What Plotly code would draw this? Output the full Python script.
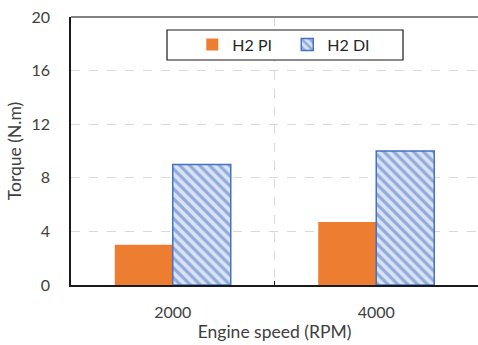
import plotly.graph_objects as go

categories = ["2000", "4000"]
h2_pi = [3.0, 4.7]
h2_di = [9.0, 10.0]
y_ticks = [0, 4, 8, 12, 16, 20]

FONT = "Lato"
fig = go.Figure()
fig.add_trace(go.Bar(
    x=categories, y=h2_pi, name="H2 PI",
    marker=dict(color="#ED7D31", line=dict(width=0)),
))
fig.add_trace(go.Bar(
    x=categories, y=h2_di, name="H2 DI",
    marker=dict(
        color="#DAE3F3",
        line=dict(color="#4472C4", width=1.5),
        pattern=dict(shape="\\", fgcolor="#4472C4", bgcolor="#DAE3F3",
                     size=7, solidity=0.45, fillmode="overlay"),
    ),
))

fig.update_layout(
    width=478, height=345,
    margin=dict(l=71, r=0, t=17, b=60, autoexpand=False),
    paper_bgcolor="white", plot_bgcolor="white",
    barmode="group", bargap=0.43, bargroupgap=0,
    font=dict(family=FONT, size=16, color="#404040"),
    showlegend=True,
    legend=dict(orientation="h", x=0.298, y=0.96, xanchor="left", yanchor="top",
                bgcolor="rgba(0,0,0,0)", borderwidth=0,
                font=dict(size=16, color="#262626"),
                entrywidth=50, entrywidthmode="pixels",
                traceorder="normal"),
    xaxis=dict(
        type="category", range=[-0.5, 1.5], automargin=False,
        showline=True, linecolor="#1a1a1a", linewidth=1.5,
        showgrid=True, gridcolor="#d9d9d9", griddash="dash", gridwidth=1,
        tickson="boundaries", ticks="inside", ticklen=4, tickcolor="#1a1a1a",
        ticklabelstandoff=12,
        title=dict(text="Engine speed (RPM)", standoff=6,
                   font=dict(size=17.5, color="#404040")),
        tickfont=dict(size=16, color="#404040"),
    ),
    yaxis=dict(
        range=[0, 20], tickvals=y_ticks, automargin=False,
        showline=True, linecolor="#1a1a1a", linewidth=1.5,
        showgrid=True, gridcolor="#d9d9d9", griddash="dash", gridwidth=1,
        zeroline=False, ticks="", ticklabelstandoff=16,
        title=dict(text="Torque (N.m)", standoff=5,
                   font=dict(size=17.5, color="#404040")),
        tickfont=dict(size=16, color="#404040"),
    ),
    shapes=[
        dict(type="line", xref="paper", yref="paper", x0=0, x1=1, y0=1, y1=1,
             line=dict(color="#595959", width=1.5)),
        dict(type="rect", xref="paper", yref="paper",
             x0=(167 - 71) / 407, x1=(403 - 71) / 407,
             y0=(285 - 60) / 268, y1=(285 - 30) / 268,
             line=dict(color="#1a1a1a", width=1.2), fillcolor="white", layer="above"),
    ],
)

fig.write_html("out.html")
